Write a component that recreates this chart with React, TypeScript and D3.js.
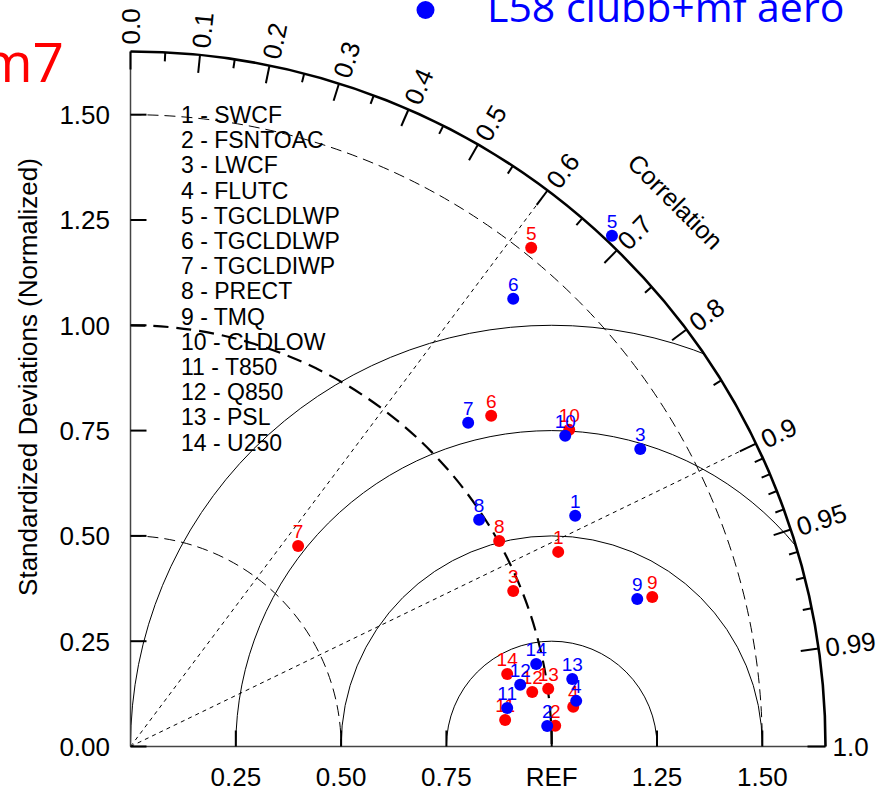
import React from "react";
import * as d3 from "d3";

const variables = ["SWCF", "FSNTOAC", "LWCF", "FLUTC", "TGCLDLWP", "TGCLDLWP", "TGCLDIWP", "PRECT", "TMQ", "CLDLOW", "T850", "Q850", "PSL", "U250"];
const redRatio = [1.1156, 1.0095, 0.9808, 1.0553, 1.5189, 1.1617, 0.6206, 1.0022, 1.2886, 1.2846, 0.8917, 0.9625, 1.0011, 0.9107];
const redCorr = [0.9102, 0.9988, 0.9264, 0.996, 0.6263, 0.7371, 0.6412, 0.8734, 0.9613, 0.8108, 0.9975, 0.9909, 0.9906, 0.982];
const blueRatio = [1.1893, 0.9905, 1.4014, 1.0637, 1.6664, 1.3983, 1.1105, 0.9873, 1.2531, 1.2685, 0.899, 0.9367, 1.0609, 0.9829];
const blueCorr = [0.8877, 0.9988, 0.8636, 0.9948, 0.6859, 0.6498, 0.7219, 0.8384, 0.9601, 0.8136, 0.9948, 0.9877, 0.9885, 0.9799];
const legendLabel = "L58 clubb+mf aero";
const titleText = "m7";
const yTicks = [0, 0.25, 0.5, 0.75, 1.0, 1.25, 1.5];
const yTickLabels = ["0.00", "0.25", "0.50", "0.75", "1.00", "1.25", "1.50"];
const xTicks = [0.25, 0.5, 0.75, 1.0, 1.25, 1.5];
const xTickLabels = ["0.25", "0.50", "0.75", "REF", "1.25", "1.50"];
const corrMajor = [0, 0.1, 0.2, 0.3, 0.4, 0.5, 0.6, 0.7, 0.8, 0.9, 0.95, 0.99, 1.0];
const corrMajorLabels = ["0.0", "0.1", "0.2", "0.3", "0.4", "0.5", "0.6", "0.7", "0.8", "0.9", "0.95", "0.99", "1.0"];
const corrMinor = [0.05, 0.15, 0.25, 0.35, 0.45, 0.55, 0.65, 0.75, 0.85, 0.91, 0.92, 0.93, 0.94, 0.96, 0.97, 0.98];
const rmsCircles = [0.25, 0.5, 0.75, 1.0];
const sdDashed = [0.5, 1.5];
const sdRef = 1.0;
const corrLines = [0.6, 0.9];
const maxSd = 1.65;

const W = 883;
const H = 790;
const OX = 130.5;
const OY = 746.5;
const RPX = 695;

const sx = d3.scaleLinear().domain([0, maxSd]).range([OX, OX + RPX]);
const sy = d3.scaleLinear().domain([0, maxSd]).range([OY, OY - RPX]);
const unit = RPX / maxSd;

function polar(r: number, c: number): [number, number] {
  const th = Math.acos(c);
  return [sx(r * Math.cos(th)), sy(r * Math.sin(th))];
}

function quarterArc(r: number): string {
  const p = d3.path();
  p.arc(OX, OY, r * unit, -Math.PI / 2, 0, false);
  return p.toString();
}

function circlePath(cx: number, r: number): string {
  const p = d3.path();
  p.moveTo(sx(cx + r), OY);
  p.arc(sx(cx), OY, r * unit, 0, -Math.PI * 2, true);
  return p.toString();
}

const font = "'Liberation Sans', Arial, Helvetica, sans-serif";

export default function App() {
  const clip = (() => {
    const p = d3.path();
    p.moveTo(OX, OY);
    p.lineTo(OX, OY - RPX);
    p.arc(OX, OY, RPX, -Math.PI / 2, 0, false);
    p.closePath();
    return p.toString();
  })();

  const series = [
    { ratio: redRatio, corr: redCorr, color: "#ff0000" },
    { ratio: blueRatio, corr: blueCorr, color: "#0000ff" },
  ];

  return (
    <svg width={W} height={H} style={{ position: "absolute", left: 0, top: 0, background: "#fff" }} fontFamily={font}>
      <defs>
        <clipPath id="sector">
          <path d={clip} />
        </clipPath>
      </defs>
      <rect x={0} y={0} width={W} height={H} fill="#fff" />

      {/* RMS circles */}
      <g clipPath="url(#sector)" fill="none" stroke="#000" strokeWidth={1}>
        {rmsCircles.map((r) => (
          <path key={r} d={circlePath(1, r)} />
        ))}
      </g>

      {/* sd dashed arcs */}
      {sdDashed.map((r) => (
        <path key={r} d={quarterArc(r)} fill="none" stroke="#000" strokeWidth={1} strokeDasharray="11,6" />
      ))}
      <path d={quarterArc(sdRef)} fill="none" stroke="#000" strokeWidth={2.2} strokeDasharray="15,8" />

      {/* correlation lines */}
      {corrLines.map((c) => {
        const [x, y] = polar(maxSd, c);
        return <line key={c} x1={OX} y1={OY} x2={x} y2={y} stroke="#000" strokeWidth={1} strokeDasharray="4,4" />;
      })}

      {/* axes */}
      <line x1={OX} y1={OY} x2={OX + RPX} y2={OY} stroke="#444" strokeWidth={1.5} />
      <line x1={OX} y1={OY} x2={OX} y2={OY - RPX} stroke="#444" strokeWidth={1.5} />
      <path d={quarterArc(maxSd)} fill="none" stroke="#000" strokeWidth={2.6} />

      {/* y ticks */}
      {yTicks.map((t, i) => (
        <g key={"y" + t}>
          <line x1={OX} x2={OX + 16} y1={sy(t)} y2={sy(t)} stroke="#000" strokeWidth={2} />
          <text x={110} y={sy(t)} dy="0.36em" textAnchor="end" fontSize={26}>
            {yTickLabels[i]}
          </text>
        </g>
      ))}
      {/* x ticks */}
      {xTicks.map((t, i) => (
        <g key={"x" + t}>
          <line x1={sx(t)} x2={sx(t)} y1={OY} y2={OY - 16} stroke="#000" strokeWidth={2} />
          <text x={sx(t)} y={786} textAnchor="middle" fontSize={26}>
            {xTickLabels[i]}
          </text>
        </g>
      ))}

      {/* correlation ticks */}
      {corrMajor.map((c, i) => {
        const [x1, y1] = polar(maxSd, c);
        const [x2, y2] = polar(maxSd - 18 / unit, c);
        const [lx, ly] = polar(maxSd + 7 / unit, c);
        const ang = (Math.acos(c) * 180) / Math.PI;
        return (
          <g key={"cm" + c}>
            <line x1={x1} y1={y1} x2={x2} y2={y2} stroke="#000" strokeWidth={2} />
            <text transform={`translate(${lx},${ly}) rotate(${-ang})`} dy="0.36em" fontSize={26}>
              {corrMajorLabels[i]}
            </text>
          </g>
        );
      })}
      {corrMinor.map((c) => {
        const [x1, y1] = polar(maxSd, c);
        const [x2, y2] = polar(maxSd - 9 / unit, c);
        return <line key={"cn" + c} x1={x1} y1={y1} x2={x2} y2={y2} stroke="#000" strokeWidth={2} />;
      })}
      {(() => {
        const [x, y] = polar(1.83, Math.cos(Math.PI / 4));
        return (
          <text transform={`translate(${x},${y}) rotate(45)`} textAnchor="middle" dy="0.36em" fontSize={25}>
            Correlation
          </text>
        );
      })()}

      {/* y axis title */}
      <text transform={`translate(37,377) rotate(-90)`} textAnchor="middle" fontSize={26}>
        Standardized Deviations (Normalized)
      </text>

      {/* variable list */}
      {variables.map((v, i) => (
        <text key={"v" + i} x={181} y={123 + i * 25.2} fontSize={23}>
          {`${i + 1} - ${v}`}
        </text>
      ))}

      {/* points */}
      {series.map((s, si) => (
        <g key={"s" + si}>
          {s.ratio.map((r, i) => {
            const [x, y] = polar(r, s.corr[i]);
            return (
              <g key={i}>
                <circle cx={x} cy={y} r={6} fill={s.color} />
                <text x={x} y={y - 8} textAnchor="middle" fontSize={19} fill={s.color}>
                  {i + 1}
                </text>
              </g>
            );
          })}
        </g>
      ))}

      {/* title & legend (clipped at page edge) */}
      <text x={64} y={82} textAnchor="end" fontSize={55} fill="#ff0000" fontFamily="'Open Sans', 'Noto Sans', sans-serif">
        {titleText}
      </text>
      <circle cx={425.5} cy={10} r={9} fill="#0000ff" />
      <text x={487} y={22} fontSize={41} fill="#0000ff" fontFamily="'Open Sans', 'Noto Sans', sans-serif">
        {legendLabel}
      </text>
    </svg>
  );
}
